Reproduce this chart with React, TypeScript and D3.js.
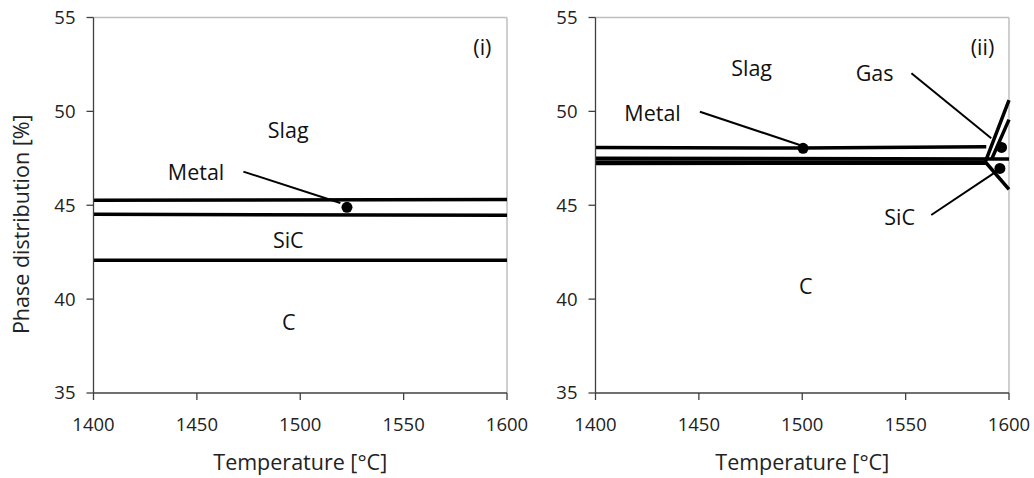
import React from "react";
import * as d3 from "d3";

// ---------- data ----------
const xTicks = [1400, 1450, 1500, 1550, 1600];
const yTicks = [35, 40, 45, 50, 55];
const xDomain: [number, number] = [1400, 1600];
const yDomain: [number, number] = [35, 55];

// Panel (i) boundary lines [temperature, %]
const p1MetalTop: [number, number][] = [[1400, 45.27], [1600, 45.3]];
const p1SiCTop: [number, number][] = [[1400, 44.52], [1600, 44.47]];
const p1CTop: [number, number][] = [[1400, 42.07], [1600, 42.07]];
const p1Markers: [number, number][] = [[1522.6, 44.89]];

// Panel (ii) boundary lines
const p2SlagLow: [number, number][] = [[1400, 48.07], [1500, 48.05], [1589, 48.12]];
const p2MetalLow: [number, number][] = [[1400, 47.5], [1600, 47.47]];
const p2GasRise: [number, number][] = [[1400, 47.3], [1588.5, 47.3], [1600, 50.6]];
const p2GasRise2: [number, number][] = [[1591.8, 47.5], [1600, 49.56]];
const p2SiCDrop: [number, number][] = [[1400, 47.22], [1589, 47.25], [1600, 45.85]];
const p2Markers: [number, number][] = [[1500.4, 48.03], [1596.4, 48.08], [1595.6, 46.96]];

// labels: [text, T, %]
const p1Labels: [string, number, number][] = [
  ["Slag", 1494.2, 49.0],
  ["Metal", 1449.6, 46.77],
  ["SiC", 1494.2, 43.15],
  ["C", 1494.4, 38.73],
  ["(i)", 1588.1, 53.43],
];
const p2Labels: [string, number, number][] = [
  ["Slag", 1475.5, 52.31],
  ["Metal", 1427.6, 49.91],
  ["Gas", 1535, 52.04],
  ["SiC", 1547.1, 44.37],
  ["C", 1501.7, 40.7],
  ["(ii)", 1587.2, 53.43],
];
// leader lines: [T1, v1, T2, v2]
const p1Leaders: [number, number, number, number][] = [[1472.5, 46.79, 1519.4, 45.12]];
const p2Leaders: [number, number, number, number][] = [
  [1450.5, 49.98, 1498.8, 48.21],
  [1552.8, 52.03, 1591.4, 48.57],
  [1562.4, 44.48, 1593.8, 46.79],
];

const FONT = "'Open Sans', sans-serif";

type PanelProps = {
  x0: number;
  lines: [number, number][][];
  markers: [number, number][];
  labels: [string, number, number][];
  leaders: [number, number, number, number][];
  showYTitle: boolean;
};

const TOP = 17.5;
const BOTTOM = 393;
const WIDTH = 413.5;

function Panel({ x0, lines, markers, labels, leaders, showYTitle }: PanelProps) {
  const x = d3.scaleLinear().domain(xDomain).range([x0, x0 + WIDTH]);
  const y = d3.scaleLinear().domain(yDomain).range([BOTTOM, TOP]);
  const line = d3
    .line<[number, number]>()
    .x((d) => x(d[0]))
    .y((d) => y(d[1]));
  const axisColor = "#404040";
  return (
    <g>
      {/* plot area border (top & right) */}
      <line x1={x0} x2={x0 + WIDTH} y1={TOP} y2={TOP} stroke="#bfbfbf" strokeWidth={1.5} />
      <line x1={x0 + WIDTH} x2={x0 + WIDTH} y1={TOP} y2={BOTTOM} stroke="#bfbfbf" strokeWidth={1.5} />
      {/* data lines */}
      {lines.map((l, i) => (
        <path key={i} d={line(l) || ""} fill="none" stroke="#000" strokeWidth={3.5} strokeLinejoin="round" />
      ))}
      {/* leaders */}
      {leaders.map((l, i) => (
        <line key={i} x1={x(l[0])} y1={y(l[1])} x2={x(l[2])} y2={y(l[3])} stroke="#000" strokeWidth={2} />
      ))}
      {markers.map((m, i) => (
        <circle key={i} cx={x(m[0])} cy={y(m[1])} r={5.5} fill="#000" />
      ))}
      {/* axes */}
      <line x1={x0} x2={x0} y1={TOP} y2={BOTTOM} stroke={axisColor} strokeWidth={1.3} />
      <line x1={x0} x2={x0 + WIDTH} y1={BOTTOM} y2={BOTTOM} stroke={axisColor} strokeWidth={1.3} />
      {yTicks.map((t) => (
        <g key={t}>
          <line x1={x0 - 7} x2={x0} y1={y(t)} y2={y(t)} stroke={axisColor} strokeWidth={1.3} />
          <text x={x0 - 18} y={y(t)} dy="0.35em" textAnchor="end" fontFamily={FONT} fontSize={18.5} fill="#222">
            {t}
          </text>
        </g>
      ))}
      {xTicks.map((t) => (
        <g key={t}>
          <line x1={x(t)} x2={x(t)} y1={BOTTOM} y2={BOTTOM + 7} stroke={axisColor} strokeWidth={1.3} />
          <text x={x(t)} y={425} dy="0.35em" textAnchor="middle" fontFamily={FONT} fontSize={18.5} fill="#222">
            {t}
          </text>
        </g>
      ))}
      <text x={x0 + WIDTH / 2} y={470} textAnchor="middle" fontFamily={FONT} fontSize={21.5} fill="#222">
        Temperature [°C]
      </text>
      {showYTitle && (
        <text
          transform={`translate(29, ${(TOP + BOTTOM) / 2 + 19}) rotate(-90)`}
          textAnchor="middle"
          fontFamily={FONT}
          fontSize={21.5}
          fill="#222"
        >
          Phase distribution [%]
        </text>
      )}
      {labels.map(([s, t, v], i) => (
        <text key={i} x={x(t)} y={y(v)} dy="0.35em" textAnchor="middle" fontFamily={FONT} fontSize={21.5} fill="#111">
          {s}
        </text>
      ))}
    </g>
  );
}

export default function App() {
  return (
    <svg
      width={1034}
      height={478}
      style={{ position: "absolute", left: 0, top: 0, background: "#fff" }}
    >
      <rect width={1034} height={478} fill="#fff" />
      <Panel
        x0={93.5}
        lines={[p1MetalTop, p1SiCTop, p1CTop]}
        markers={p1Markers}
        labels={p1Labels}
        leaders={p1Leaders}
        showYTitle={true}
      />
      <Panel
        x0={595.5}
        lines={[p2SlagLow, p2MetalLow, p2GasRise, p2GasRise2, p2SiCDrop]}
        markers={p2Markers}
        labels={p2Labels}
        leaders={p2Leaders}
        showYTitle={false}
      />
    </svg>
  );
}
